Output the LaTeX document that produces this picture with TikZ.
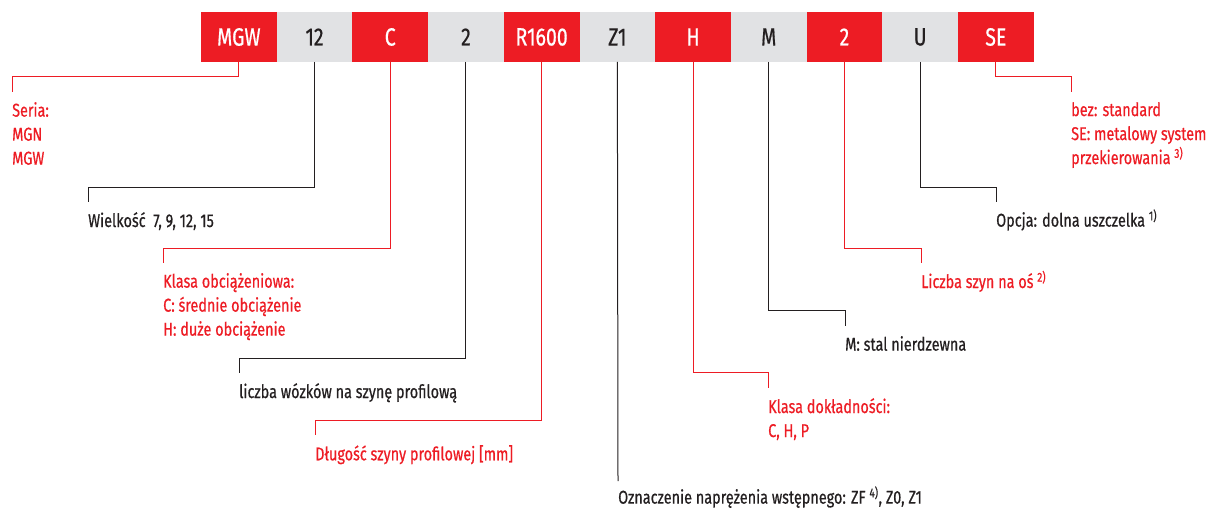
\documentclass[tikz,border=0pt]{standalone}
\usepackage{fontspec}
\setmainfont{Fira Sans}[FakeStretch=0.78, FakeBold=0.6]
\usetikzlibrary{positioning}
\definecolor{hiwinred}{HTML}{ED1C24}
\definecolor{codegray}{HTML}{E1E2E4}
\definecolor{txtdark}{HTML}{231F20}
\newcommand{\fnote}[1]{\smash{\textsuperscript{#1}}}
\tikzset{
  code/.style={minimum width=75.7pt, minimum height=50pt, inner sep=0pt, outer sep=0pt,
    font=\fontsize{25}{25}\selectfont},
  redcode/.style={code, fill=hiwinred, text=white},
  graycode/.style={code, fill=codegray, text=txtdark},
  desc/.style={anchor=north west, inner sep=0pt, align=left,
    font=\fontsize{18.5}{24}\selectfont},
  reddesc/.style={desc, text=hiwinred},
  darkdesc/.style={desc, text=txtdark},
  redline/.style={draw=hiwinred, line width=1pt},
  darkline/.style={draw=txtdark, line width=1pt},
}
\begin{document}
\begin{tikzpicture}[x=1pt, y=-1pt]
    \useasboundingbox (0,0) rectangle (1207,508);
    % code boxes
    \node[redcode, anchor=west] (series) at (201,37) {MGW};
    \node[graycode, right=0pt of series] (size) {12};
    \node[redcode, right=0pt of size] (load) {C};
    \node[graycode, right=0pt of load] (carriages) {2};
    \node[redcode, right=0pt of carriages] (railLen) {R1600};
    \node[graycode, right=0pt of railLen] (preload) {Z1};
    \node[redcode, right=0pt of preload] (accuracy) {H};
    \node[graycode, right=0pt of accuracy] (material) {M};
    \node[redcode, right=0pt of material] (rails) {2};
    \node[graycode, right=0pt of rails] (seal) {U};
    \node[redcode, right=0pt of seal] (recirc) {SE};
    % descriptions, left side
    \node[reddesc] (seriesTxt) at (12,102) {Seria:\\MGN\\MGW};
    \node[darkdesc] (sizeTxt) at (88,212) {Wielkość~~7, 9, 12, 15};
    \node[reddesc] (loadTxt) at (163,273) {Klasa obciążeniowa:\\C: średnie obciążenie\\H: duże obciążenie};
    \node[darkdesc] (carriagesTxt) at (239,383) {liczba wózków na szynę profilową};
    \node[reddesc] (railLenTxt) at (315,445) {Długość szyny profilowej [mm]};
    \node[darkdesc] (preloadTxt) at (618,489) {Oznaczenie naprężenia wstępnego: ZF \fnote{4)}, Z0, Z1};
    % descriptions, right side
    \node[reddesc] (accuracyTxt) at (768,398) {Klasa dokładności:\\C, H, P};
    \node[darkdesc] (materialTxt) at (845,336) {M: stal nierdzewna};
    \node[reddesc] (railsTxt) at (921,273) {Liczba szyn na oś \fnote{2)}};
    \node[darkdesc] (sealTxt) at (996,212) {Opcja: dolna uszczelka \fnote{1)}};
    \node[reddesc] (recircTxt) at (1071,102) {bez: standard\\SE: metalowy system\\przekierowania \fnote{3)}};
    % leader lines
    \draw[redline] (series.south) -- ++(0,15) -| ([yshift=10pt]seriesTxt.north west);
    \draw[darkline] (size.south) -- ++(0,125) -| ([yshift=10pt]sizeTxt.north west);
    \draw[redline] (load.south) -- ++(0,186) -| ([yshift=10pt]loadTxt.north west);
    \draw[darkline] (carriages.south) -- ++(0,296) -| ([yshift=10pt]carriagesTxt.north west);
    \draw[redline] (railLen.south) -- ++(0,358) -| ([yshift=10pt]railLenTxt.north west);
    \draw[darkline] (preload.south) -- ([yshift=8pt]preloadTxt.north west);
    \draw[redline] (accuracy.south) -- ++(0,310) -| ([yshift=10pt]accuracyTxt.north west);
    \draw[darkline] (material.south) -- ++(0,248) -| ([yshift=10pt]materialTxt.north west);
    \draw[redline] (rails.south) -- ++(0,186) -| ([yshift=10pt]railsTxt.north west);
    \draw[darkline] (seal.south) -- ++(0,125) -| ([yshift=10pt]sealTxt.north west);
    \draw[redline] (recirc.south) -- ++(0,15) -| ([yshift=10pt]recircTxt.north west);
\end{tikzpicture}
\end{document}
